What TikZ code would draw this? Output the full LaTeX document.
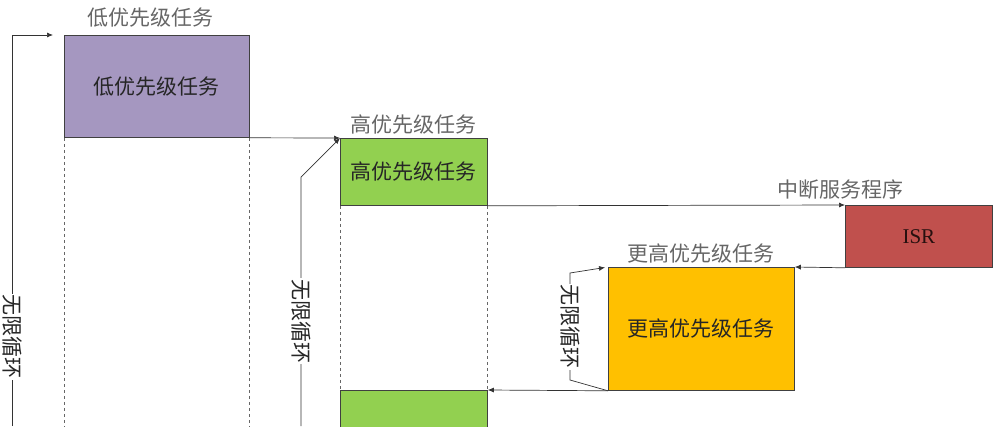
\documentclass[tikz,border=0pt]{standalone}
\usepackage{fontspec}
\newfontfamily\cjk{Noto Sans CJK SC}
\newfontfamily\isrfont{Liberation Serif}
\usetikzlibrary{arrows.meta,positioning}
\definecolor{lowpurple}{RGB}{165,151,192}
\definecolor{highgreen}{RGB}{146,208,80}
\definecolor{isrred}{RGB}{192,80,77}
\definecolor{toporange}{RGB}{255,192,0}
\tikzset{>={Latex[length=6pt,width=5pt]}}
\tikzset{%
    task/.style={draw=black!75, line width=0.8pt, inner sep=0pt, anchor=north west,
        font=\cjk\fontsize{21}{21}\selectfont, text=black!85},
    tag/.style={font=\cjk\fontsize{21}{21}\selectfont, text=black!60, inner sep=2pt},
    loopnote/.style={font=\cjk\fontsize{21}{21}\selectfont, rotate=-90, fill=white,
        inner sep=1pt, text=black!85},
    link/.style={->, line width=0.7pt, black!80},
    guide/.style={dashed, line width=0.7pt, black!60}
}

\begin{document}
\begin{tikzpicture}[x=1pt,y=-1pt]
\useasboundingbox (0,0) rectangle (1002,426);
\clip (0,0) rectangle (1002,426);

% tasks
\node[task, fill=lowpurple, minimum width=185, minimum height=102] (low) at (64,35) {低优先级任务};
\node[task, fill=highgreen, minimum width=147, minimum height=67] (high) at (340,138) {高优先级任务};
\node[task, fill=isrred, minimum width=147, minimum height=62, font=\isrfont\fontsize{21}{21}\selectfont, text=black!80!isrred] (isr) at (845,205) {ISR};
\node[task, fill=toporange, minimum width=186, minimum height=123] (top) at (608,267) {更高优先级任务};
\node[task, fill=highgreen, minimum width=147, minimum height=60] (high2) at (340,390) {};

% labels above the tasks
\node[tag, above=6pt of low, xshift=-6pt] (lowtag) {低优先级任务};
\node[tag, above=2pt of high] (hightag) {高优先级任务};
\node[tag, above=4pt of isr.north west, xshift=-5pt] (isrtag) {中断服务程序};
\node[tag, above=2pt of top] (toptag) {更高优先级任务};

% switches
\draw[link] (low.south east) -- (high.north west);
\draw[link] (high.south east) -- (isr.north west);
\draw[link] (isr.south west) -- (top.north east);
\draw[link] (top.south west) -- (high2.north east);

% waiting
\draw[guide] (low.south west) -- (low.south west |- 0,426);
\draw[guide] (low.south east) -- (low.south east |- 0,426);
\draw[guide] (high.south west) -- (high2.north west);
\draw[guide] (high.south east) -- (high2.north east);

% endless loops
\coordinate (lowfoot) at (12,426);
\coordinate (highfoot) at (301,426);
\coordinate (highbend) at (301,177);
\coordinate (topbend1) at (570,380);
\coordinate (topbend2) at (570,273);

\draw[link, shorten >=11pt] (lowfoot) |- (low.north west)
    node[loopnote, pos=0.114] {无限循环};
\draw[link] (highfoot) -- (highbend) node[loopnote, pos=0.42] {无限循环} -- (high.north west);
\draw[link, shorten >=3pt] (top.south west) -- (topbend1) -- (topbend2)
    node[loopnote, midway] {无限循环} -- (top.north west);
\end{tikzpicture}
\end{document}
